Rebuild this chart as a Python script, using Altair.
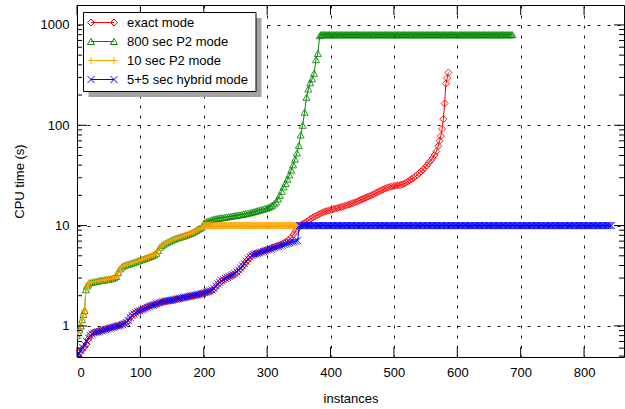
import altair as alt
import pandas as pd

# ---- sorted CPU times per instance rank, one list pair per solver mode ----
exact_rank = list(range(0, 571, 3)) + [572, 574, 576, 578, 580, 582, 584, 586]
exact_cpu = [
    0.50, 0.53, 0.56, 0.59, 0.62, 0.66, 0.74, 0.81, 0.84, 0.86,
    0.87, 0.88, 0.89, 0.905, 0.915, 0.93, 0.94, 0.95, 0.965, 0.975,
    0.99, 1.00, 1.01, 1.025, 1.04, 1.06, 1.08, 1.12, 1.22, 1.28,
    1.32, 1.36, 1.40, 1.42, 1.45, 1.48, 1.51, 1.54, 1.57, 1.60,
    1.62, 1.64, 1.665, 1.685, 1.71, 1.73, 1.75, 1.765, 1.775, 1.79,
    1.80, 1.82, 1.84, 1.855, 1.87, 1.89, 1.91, 1.925, 1.945, 1.96,
    1.98, 2.00, 2.015, 2.035, 2.05, 2.08, 2.10, 2.13, 2.16, 2.19,
    2.22, 2.26, 2.33, 2.45, 2.58, 2.70, 2.80, 2.88, 2.96, 3.03,
    3.10, 3.16, 3.22, 3.30, 3.42, 3.55, 3.72, 3.92, 4.13, 4.36,
    4.60, 4.85, 5.04, 5.17, 5.24, 5.30, 5.39, 5.48, 5.57, 5.65,
    5.72, 5.82, 5.91, 6.02, 6.12, 6.22, 6.33, 6.44, 6.56, 6.72,
    6.90, 7.13, 7.40, 7.75, 8.20, 8.80, 9.30, 9.75, 10.2, 10.5,
    10.7, 11.0, 11.3, 11.7, 12.0, 12.3, 12.6, 12.9, 13.2, 13.45,
    13.7, 13.9, 14.05, 14.25, 14.4, 14.6, 14.8, 14.95, 15.15, 15.3,
    15.5, 15.75, 16.0, 16.2, 16.45, 16.7, 17.0, 17.3, 17.6, 17.95,
    18.3, 18.65, 19.0, 19.4, 19.75, 20.1, 20.5, 21.0, 21.45, 21.95,
    22.4, 22.9, 23.35, 23.8, 24.1, 24.4, 24.65, 24.85, 25.05, 25.2,
    25.4, 25.7, 26.1, 26.7, 27.5, 28.3, 29.1, 29.9, 30.9, 32.1,
    33.3, 34.6, 36.1, 37.8, 39.8, 42.0, 44.4, 47.0, 50.5, 55.0,
    62.0,
    70.0, 78.0, 92.0, 115.0, 165.0, 260.0, 295.0, 335.0,
]

p2_800_rank = (list(range(0, 21, 2)) + list(range(23, 348, 3))
               + [350, 353, 356, 359, 362, 365, 368, 371, 374, 377, 380, 383]
               + list(range(385, 688, 2)))
p2_800_cpu = [
    0.80, 0.86, 0.92, 1.00, 1.15, 1.30, 1.42, 2.30, 2.50, 2.62, 2.70,
    2.72, 2.745, 2.77, 2.79, 2.82, 2.84, 2.86, 2.88, 2.90, 2.92,
    2.95, 2.98, 3.03, 3.12, 3.40, 3.70, 3.88, 3.98, 4.05, 4.10,
    4.16, 4.22, 4.28, 4.34, 4.41, 4.48, 4.55, 4.62, 4.70, 4.77,
    4.85, 4.93, 5.02, 5.12, 5.30, 5.65, 6.08, 6.35, 6.53, 6.70,
    6.85, 7.00, 7.15, 7.28, 7.40, 7.52, 7.63, 7.72, 7.83, 7.95,
    8.07, 8.20, 8.35, 8.52, 8.70, 8.93, 9.18, 9.42, 9.65, 10.5,
    10.85, 11.05, 11.25, 11.4, 11.55, 11.67, 11.78, 11.87, 11.95, 12.0,
    12.1, 12.18, 12.27, 12.36, 12.45, 12.54, 12.63, 12.72, 12.81, 12.9,
    13.02, 13.14, 13.26, 13.4, 13.55, 13.7, 13.86, 14.04, 14.22, 14.4,
    14.58, 14.76, 14.95, 15.2, 15.5, 15.95, 16.5, 17.2, 18.4, 20.0,
    22.0, 24.3, 26.3, 29.0, 32.0, 35.8, 40.3, 46.0, 53.0,
    63.0, 80.0, 100.0, 135.0, 190.0, 230.0, 265.0, 290.0, 330.0, 450.0, 520.0, 780.0,
] + [800.0] * 152

p2_10_rank = (list(range(0, 21, 2)) + list(range(23, 198, 3))
              + list(range(199, 350)))
p2_10_cpu = [
    0.80, 0.86, 0.92, 1.00, 1.15, 1.30, 1.42, 2.30, 2.50, 2.62, 2.70,
    2.72, 2.745, 2.77, 2.79, 2.82, 2.84, 2.86, 2.88, 2.90, 2.92,
    2.95, 2.98, 3.03, 3.12, 3.40, 3.70, 3.88, 3.98, 4.05, 4.10,
    4.16, 4.22, 4.28, 4.34, 4.41, 4.48, 4.55, 4.62, 4.70, 4.77,
    4.85, 4.93, 5.02, 5.12, 5.30, 5.65, 6.08, 6.35, 6.53, 6.70,
    6.85, 7.00, 7.15, 7.28, 7.40, 7.52, 7.63, 7.72, 7.83, 7.95,
    8.07, 8.20, 8.35, 8.52, 8.70, 8.93, 9.18, 9.42, 9.65,
] + [10.0] * 151

hybrid_rank = list(range(0, 349, 3)) + list(range(351, 844, 2))
hybrid_cpu = [
    0.50, 0.53, 0.57, 0.61, 0.65, 0.70, 0.76, 0.80, 0.83, 0.85,
    0.86, 0.87, 0.88, 0.895, 0.905, 0.92, 0.93, 0.94, 0.955, 0.965,
    0.98, 0.99, 1.00, 1.015, 1.03, 1.05, 1.08, 1.13, 1.21, 1.27,
    1.31, 1.35, 1.39, 1.41, 1.44, 1.47, 1.50, 1.53, 1.56, 1.59,
    1.61, 1.63, 1.66, 1.69, 1.72, 1.74, 1.76, 1.775, 1.785, 1.80,
    1.81, 1.83, 1.85, 1.865, 1.88, 1.90, 1.92, 1.935, 1.955, 1.97,
    1.99, 2.01, 2.025, 2.045, 2.06, 2.09, 2.11, 2.14, 2.17, 2.21,
    2.24, 2.28, 2.36, 2.50, 2.62, 2.72, 2.82, 2.90, 2.98, 3.05,
    3.12, 3.18, 3.25, 3.33, 3.46, 3.60, 3.78, 3.98, 4.18, 4.40,
    4.65, 4.88, 5.04, 5.15, 5.22, 5.28, 5.36, 5.45, 5.53, 5.61,
    5.68, 5.76, 5.85, 5.93, 6.02, 6.10, 6.19, 6.28, 6.37, 6.46,
    6.55, 6.64, 6.73, 6.82, 6.91, 7.00, 7.06,
] + [10.0] * 247

# axis ticks
x_ticks = [0, 100, 200, 300, 400, 500, 600, 700, 800]
y_ticks = [1, 10, 100, 1000]
y_minor = [0.5, 0.6, 0.7, 0.8, 0.9,
           2, 3, 4, 5, 6, 7, 8, 9,
           20, 30, 40, 50, 60, 70, 80, 90,
           200, 300, 400, 500, 600, 700, 800, 900]

# ---- styling ----
FONT = "Liberation Sans"
W, H = 547, 352
PLUS = "M-1,0L1,0M0,-1L0,1"
XMARK = "M-1,-1L1,1M-1,1L1,-1"

series = [
    ("exact mode", exact_rank, exact_cpu, "#ff0000", "diamond"),
    ("800 sec P2 mode", p2_800_rank, p2_800_cpu, "#008800", "triangle-up"),
    ("10 sec P2 mode", p2_10_rank, p2_10_cpu, "#ffa500", PLUS),
    ("5+5 sec hybrid mode", hybrid_rank, hybrid_cpu, "#0000ff", XMARK),
]

x_scale = alt.Scale(domain=[0, 863], nice=False, zero=False)
y_scale = alt.Scale(type="log", domain=[0.49, 1580], nice=False)

x_axis = alt.Axis(title="instances", values=x_ticks, grid=True, ticks=False,
                  domain=False, labelPadding=9, titlePadding=13, format="d")
y_axis = alt.Axis(title="CPU time (s)", values=y_ticks, grid=True, ticks=False,
                  domain=False, labelPadding=8, titlePadding=14, format="d")

layers = []
first = True
for name, rank, cpu, color, shape in series:
    df = pd.DataFrame({"rank": rank, "cpu": cpu})
    if first:
        enc = dict(x=alt.X("rank:Q", scale=x_scale, axis=x_axis),
                   y=alt.Y("cpu:Q", scale=y_scale, axis=y_axis))
        first = False
    else:
        enc = dict(x=alt.X("rank:Q"), y=alt.Y("cpu:Q"))
    base = alt.Chart(df).encode(**enc)
    layers.append(base.mark_line(color=color, strokeWidth=1, clip=True))
    layers.append(base.mark_point(shape=shape, filled=False, color=color,
                                  size=49, strokeWidth=1, opacity=0.85, clip=True))

# inward major / minor ticks on all four sides
xt = pd.DataFrame({"rank": x_ticks})
yt = pd.DataFrame({"cpu": y_ticks})
ym = pd.DataFrame({"cpu": y_minor})
tick = dict(color="black", strokeWidth=1)
layers += [
    alt.Chart(xt).mark_rule(**tick).encode(x="rank:Q", y=alt.value(H), y2=alt.value(H - 10)),
    alt.Chart(xt).mark_rule(**tick).encode(x="rank:Q", y=alt.value(0), y2=alt.value(10)),
    alt.Chart(yt).mark_rule(**tick).encode(y="cpu:Q", x=alt.value(0), x2=alt.value(10)),
    alt.Chart(yt).mark_rule(**tick).encode(y="cpu:Q", x=alt.value(W - 10), x2=alt.value(W)),
    alt.Chart(ym).mark_rule(**tick).encode(y="cpu:Q", x=alt.value(0), x2=alt.value(5)),
    alt.Chart(ym).mark_rule(**tick).encode(y="cpu:Q", x=alt.value(W - 5), x2=alt.value(W)),
]

# key box with drop shadow
one = pd.DataFrame({"k": [0]})
layers.append(alt.Chart(one).mark_rect(fill="#a3a3a3").encode(
    x=alt.value(11.5), x2=alt.value(184.5), y=alt.value(13), y2=alt.value(92)))
layers.append(alt.Chart(one).mark_rect(fill="white", stroke="black", strokeWidth=1).encode(
    x=alt.value(6.5), x2=alt.value(179), y=alt.value(7.5), y2=alt.value(86.5)))
for i, (name, rank, cpu, color, shape) in enumerate(series):
    yc = 17.5 + 19 * i
    layers.append(alt.Chart(one).mark_rule(color=color, strokeWidth=1).encode(
        x=alt.value(14), x2=alt.value(37), y=alt.value(yc)))
    for xp in (14, 37):
        layers.append(alt.Chart(one).mark_point(shape=shape, filled=False, color=color,
                                                size=49, strokeWidth=1, opacity=1).encode(
            x=alt.value(xp), y=alt.value(yc)))
    layers.append(alt.Chart(pd.DataFrame({"t": [name]})).mark_text(
        align="left", baseline="middle", font=FONT, fontSize=13, color="black").encode(
        x=alt.value(50), y=alt.value(yc), text="t:N"))

chart = alt.layer(*layers).properties(
    width=W, height=H,
    autosize=alt.AutoSizeParams(type="none"),
    padding={"left": 77, "top": 5, "right": 1, "bottom": 52},
    background="white",
).configure_view(
    stroke="black", strokeWidth=1
).configure_axis(
    labelFont=FONT, titleFont=FONT, labelFontSize=13, titleFontSize=13,
    titleFontWeight="normal", labelColor="black", titleColor="black",
    gridColor="black", gridDash=[3, 7], gridWidth=1, gridOpacity=0.9,
)

chart.save("out.html", embed_options={"renderer": "svg", "actions": False})
